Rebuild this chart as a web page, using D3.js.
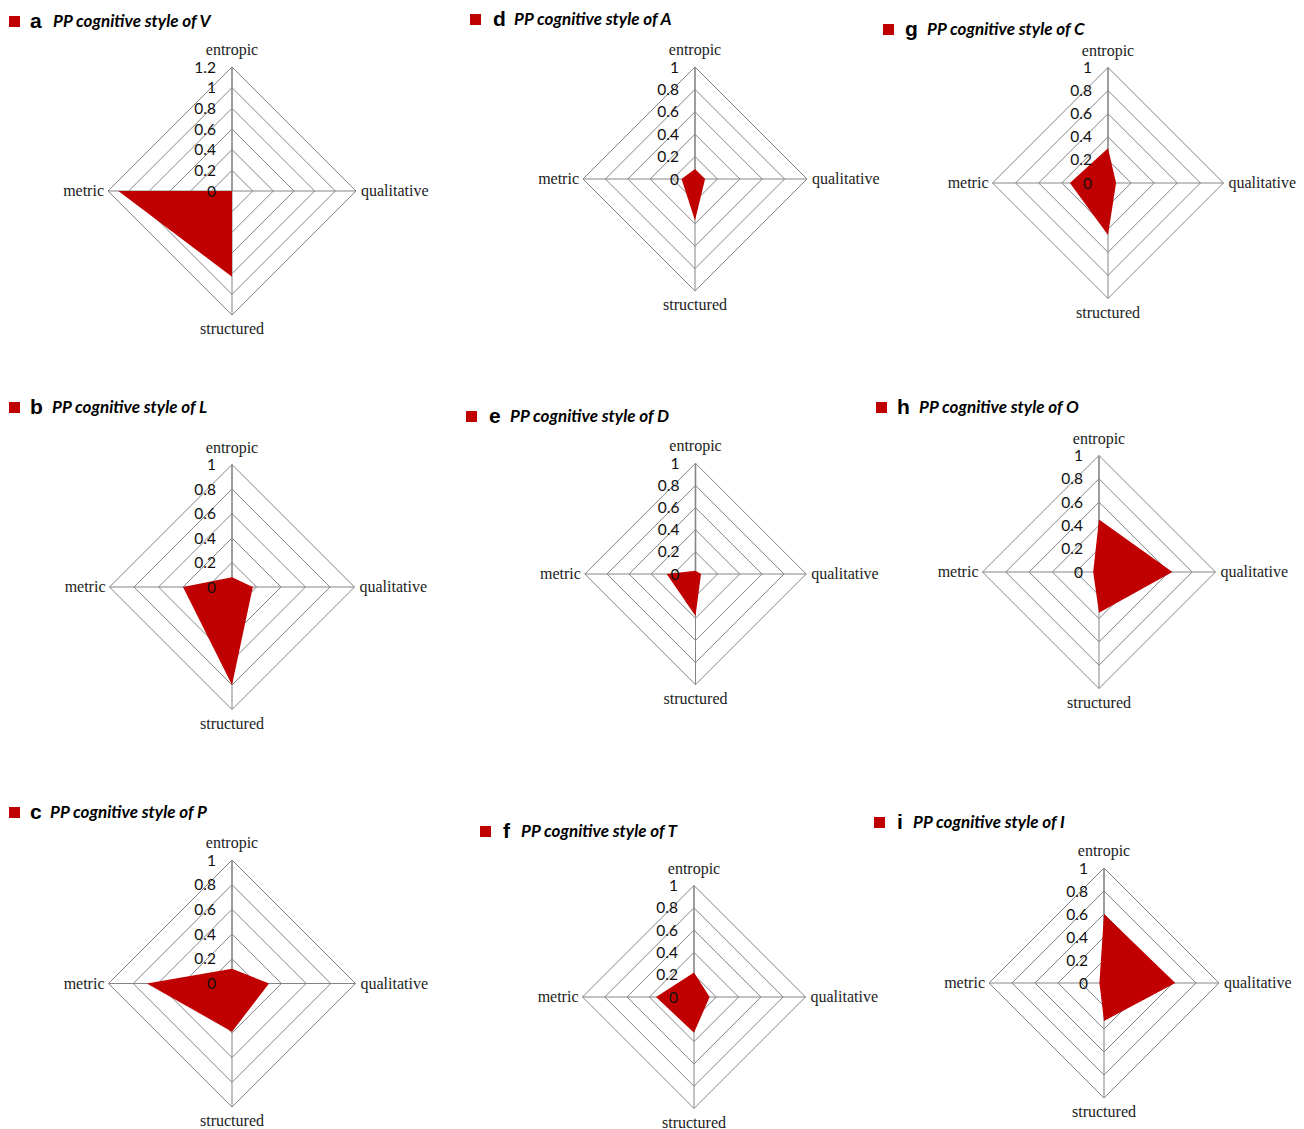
<html>
<head>
<meta charset="utf-8">
<title>PP cognitive styles</title>
<script src="https://d3js.org/d3.v7.min.js"></script>
<style>
  body { margin: 0; background: #fff; }
  .axis-label { font-family: "Liberation Serif", serif; font-size: 16px; fill: #222; }
  .tick-label { font-family: Lato, sans-serif; font-size: 15.5px; fill: #111; }
  .letter { font-family: "Liberation Sans", Arial, sans-serif; font-weight: bold; font-size: 21px; fill: #000; }
  .title { font-family: Lato, sans-serif; font-weight: bold; font-style: italic; font-size: 17px; fill: #000; }
</style>
</head>
<body>
<script>
// axes in clockwise order starting at the top
var axes = ["entropic", "qualitative", "structured", "metric"];

var letters = ["a", "b", "c", "d", "e", "f", "g", "h", "i"];
var subjects = ["V", "L", "P", "A", "D", "T", "C", "O", "I"];

// values per panel: entropic, qualitative, structured, metric
var values_a = [0, 0, 0.83, 1.1];
var values_b = [0.08, 0.17, 0.80, 0.40];
var values_c = [0.12, 0.30, 0.39, 0.69];
var values_d = [0.09, 0.09, 0.37, 0.12];
var values_e = [0.03, 0.05, 0.38, 0.26];
var values_f = [0.22, 0.14, 0.32, 0.34];
var values_g = [0.30, 0.07, 0.45, 0.33];
var values_h = [0.45, 0.63, 0.35, 0.05];
var values_i = [0.60, 0.62, 0.33, 0.04];

var ticks_a = [0, 0.2, 0.4, 0.6, 0.8, 1, 1.2];
var ticks_std = [0, 0.2, 0.4, 0.6, 0.8, 1];

var all_values = [values_a, values_b, values_c, values_d, values_e, values_f, values_g, values_h, values_i];
var all_ticks = [ticks_a, ticks_std, ticks_std, ticks_std, ticks_std, ticks_std, ticks_std, ticks_std, ticks_std];

// layout: centre, radius, and title position for each panel
var layout = [
  {cx: 232, cy: 191, r: 124, sq: 9, ty: 27, lx: 30, tx: 53},
  {cx: 232, cy: 587, r: 122.5, sq: 9, ty: 413, lx: 30, tx: 52},
  {cx: 232, cy: 983.5, r: 123.5, sq: 9, ty: 818, lx: 30, tx: 50},
  {cx: 695, cy: 179, r: 112, sq: 470, ty: 25, lx: 493, tx: 514},
  {cx: 695.5, cy: 574, r: 110.7, sq: 466, ty: 422, lx: 489, tx: 510},
  {cx: 694, cy: 997, r: 111.5, sq: 480, ty: 837, lx: 503, tx: 521},
  {cx: 1108, cy: 183, r: 115.5, sq: 883, ty: 35, lx: 905, tx: 927},
  {cx: 1099, cy: 572, r: 116.5, sq: 876, ty: 413, lx: 897, tx: 919},
  {cx: 1104, cy: 983, r: 115, sq: 874, ty: 828, lx: 897, tx: 913}
];

var red = "#c00000";
var grid_color = "#858585";

var svg = d3.select("body").append("svg")
  .attr("width", 1304)
  .attr("height", 1129);

function draw_panel(i) {
  var L = layout[i];
  var vals = all_values[i];
  var ticks = all_ticks[i];
  var max = ticks[ticks.length - 1];

  var r = d3.scaleLinear().domain([0, max]).range([0, L.r]);
  var angle = d3.scalePoint().domain(axes).range([0, 2 * Math.PI * 3 / 4]);

  function pt(axis, v) {
    var a = angle(axis);
    return [Math.sin(a) * r(v), -Math.cos(a) * r(v)];
  }

  // title
  svg.append("rect")
    .attr("x", L.sq).attr("y", L.ty - 11)
    .attr("width", 11).attr("height", 11)
    .attr("fill", red);
  svg.append("text").attr("class", "letter")
    .attr("x", L.lx).attr("y", L.ty + 1)
    .text(letters[i]);
  svg.append("text").attr("class", "title")
    .attr("x", L.tx).attr("y", L.ty)
    .text("PP cognitive style of " + subjects[i]);

  var g = svg.append("g").attr("transform", "translate(" + L.cx + "," + L.cy + ")");

  // rings
  g.selectAll("polygon.ring")
    .data(ticks.filter(function (t) { return t > 0; }))
    .enter().append("polygon")
    .attr("class", "ring")
    .attr("points", function (t) {
      return axes.map(function (a) { return pt(a, t).join(","); }).join(" ");
    })
    .attr("fill", "none")
    .attr("stroke", grid_color)
    .attr("stroke-width", 1);

  // spokes
  g.selectAll("line.spoke")
    .data(axes)
    .enter().append("line")
    .attr("class", "spoke")
    .attr("x1", 0).attr("y1", 0)
    .attr("x2", function (a) { return pt(a, max)[0]; })
    .attr("y2", function (a) { return pt(a, max)[1]; })
    .attr("stroke", grid_color)
    .attr("stroke-width", function (a) { return a === "entropic" ? 1.6 : 1; });

  // data polygon
  g.append("polygon")
    .datum(vals)
    .attr("points", function (d) {
      return d.map(function (v, k) { return pt(axes[k], v).join(","); }).join(" ");
    })
    .attr("fill", red);

  // tick labels along the entropic axis
  g.selectAll("text.tick-label")
    .data(ticks)
    .enter().append("text")
    .attr("class", "tick-label")
    .attr("x", -16)
    .attr("y", function (t) { return -r(t); })
    .attr("dy", "0.36em")
    .attr("text-anchor", "end")
    .text(function (t) { return String(+t.toFixed(1)); });

  // axis labels
  g.selectAll("text.axis-label")
    .data(axes)
    .enter().append("text")
    .attr("class", "axis-label")
    .attr("x", function (a) {
      var p = pt(a, max);
      if (a === "qualitative") return p[0] + 5;
      if (a === "metric") return p[0] - 4;
      return p[0];
    })
    .attr("y", function (a) {
      var p = pt(a, max);
      if (a === "entropic") return p[1] - 12;
      if (a === "structured") return p[1] + 19;
      return p[1] + 5;
    })
    .attr("text-anchor", function (a) {
      if (a === "qualitative") return "start";
      if (a === "metric") return "end";
      return "middle";
    })
    .text(function (a) { return a; });
}

for (var i = 0; i < layout.length; i++) {
  draw_panel(i);
}
</script>
</body>
</html>
